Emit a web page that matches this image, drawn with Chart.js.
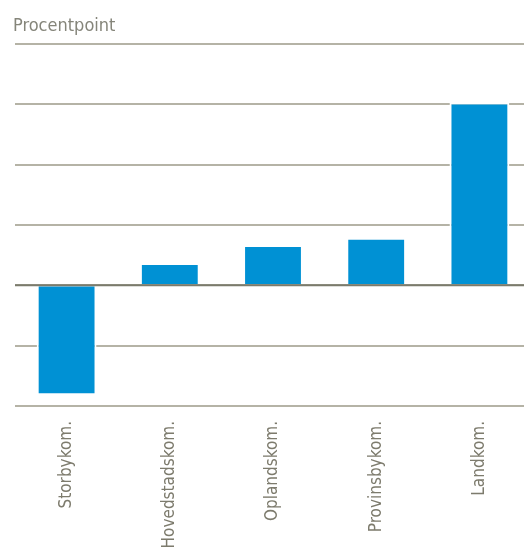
<!DOCTYPE html>
<html lang="da">
<head>
  <meta charset="UTF-8" />
  <title>Procentpoint</title>
  <script src="https://cdn.jsdelivr.net/npm/chart.js"></script>
  <style>
    html, body {
      margin: 0;
      padding: 0;
      background: #ffffff;
      overflow: hidden;
    }
    .chart-container {
      width: 531px;
      height: 551px;
    }
  </style>
</head>
<body>
  <div class="chart-container">
    <canvas id="barChart"></canvas>
  </div>

  <script>
    const categories = ['Storbykom.', 'Hovedstadskom.', 'Oplandskom.', 'Provinsbykom.', 'Landkom.'];
    const values = [-1.82, 0.37, 0.67, 0.79, 3.03];
    const yMin = -2;
    const yMax = 4;

    const fontFamily = "'DejaVu Sans Condensed', 'Liberation Sans Narrow', 'Liberation Sans', sans-serif";

    // zero line drawn on top of the bars
    const zeroLine = {
      id: 'zeroLine',
      afterDatasetsDraw(chart) {
        const { ctx, chartArea, scales } = chart;
        const y = scales.y.getPixelForValue(0);
        ctx.save();
        ctx.strokeStyle = '#7b7b6c';
        ctx.lineWidth = 2;
        ctx.beginPath();
        ctx.moveTo(chartArea.left, y);
        ctx.lineTo(chartArea.right, y);
        ctx.stroke();
        ctx.restore();
      }
    };

    new Chart(document.getElementById('barChart'), {
      type: 'bar',
      data: {
        labels: categories,
        datasets: [{
          data: values,
          backgroundColor: '#0091d4',
          borderColor: '#ffffff',
          borderWidth: 2,
          borderSkipped: 'start',
          barPercentage: 0.58,
          categoryPercentage: 1
        }]
      },
      options: {
        responsive: true,
        maintainAspectRatio: false,
        animation: false,
        layout: { padding: { left: 13, right: 0, top: 0, bottom: 0 } },
        plugins: {
          legend: { display: false },
          tooltip: { enabled: false },
          title: {
            display: true,
            text: 'Procentpoint',
            align: 'start',
            color: '#85857a',
            font: { family: fontFamily, size: 18, weight: 'normal', lineHeight: 1.2 },
            padding: { top: 16, bottom: 6.4 }
          }
        },
        scales: {
          x: {
            grid: { display: false },
            border: { display: false },
            ticks: {
              color: '#7d7b6d',
              font: { family: fontFamily, size: 17 },
              minRotation: 90,
              maxRotation: 90,
              padding: 7
            },
            afterFit(scale) { scale.height = 145; }
          },
          y: {
            min: yMin,
            max: yMax,
            grid: {
              color: '#b5b3a6',
              lineWidth: 2,
              drawTicks: false
            },
            border: { display: false },
            ticks: { display: false, stepSize: 1 },
            afterFit(scale) { scale.width = 2; }
          }
        }
      },
      plugins: [zeroLine]
    });
  </script>
</body>
</html>
